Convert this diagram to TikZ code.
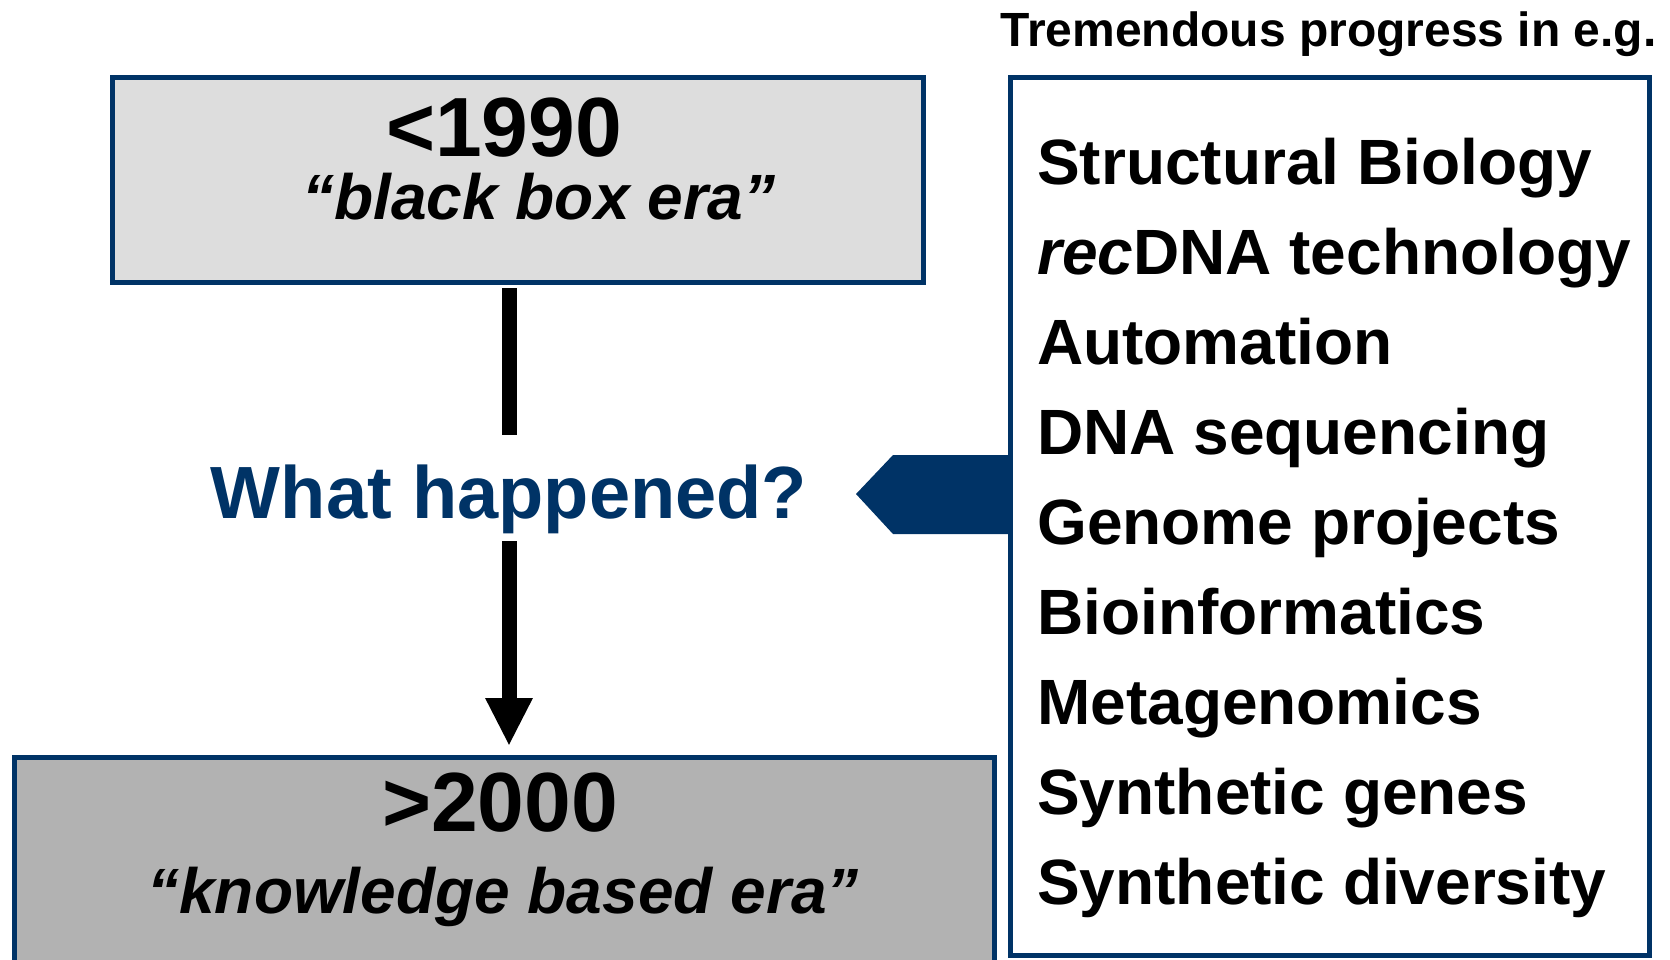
\documentclass[tikz,border=0pt]{standalone}
\usepackage{fontspec}
\setmainfont{Liberation Sans}
\usetikzlibrary{arrows.meta}
\definecolor{navy}{RGB}{0,51,102}
\definecolor{lightgrey}{HTML}{DDDDDD}
\definecolor{midgrey}{HTML}{B2B2B2}
\begin{document}
\begin{tikzpicture}[x=1pt,y=-1pt,
  erabox/.style={draw=navy, line width=5pt, inner sep=0pt},
  txt/.style={inner sep=0pt, anchor=base, font=\bfseries},
  yeartxt/.style={txt, font=\fontsize{84}{84}\selectfont\bfseries},
  quotetxt/.style={txt, font=\fontsize{64}{64}\selectfont\bfseries\itshape},
  itemtxt/.style={inner sep=0pt, anchor=base west, font=\fontsize{64}{64}\selectfont\bfseries},
  conn/.style={draw=black, line width=15pt, line cap=butt}]
\useasboundingbox (0,0) rectangle (1670,959);

% boxes
\node[erabox, fill=lightgrey, minimum width=811pt, minimum height=205pt] (top) at (517.5,179.5) {};
\node[erabox, fill=midgrey, minimum width=980pt, minimum height=243pt] (bot) at (504,878.5) {};

% pointer arrow
\fill[navy] (856,494) -- (893,455) -- (1012,455) -- (1012,534) -- (893,534) -- cycle;

\node[erabox, fill=white, minimum width=639pt, minimum height=878pt] (list) at (1329.5,516) {};

% texts in era boxes
\node[yeartxt] (y1) at (504,156) {<1990};
\node[quotetxt] (q1) at (539,219) {“black box era”};
\node[yeartxt] (y2) at (500,831) {>2000};
\node[quotetxt] (q2) at (503,913) {“knowledge based era”};

% question
\node[txt, text=navy, font=\fontsize{74}{74}\selectfont\bfseries] (wh) at (509,518) {What happened?};

% connectors
\draw[conn, shorten <=3.5pt, shorten >=29pt] (top.south -| wh.north) -- (wh.north);
\draw[conn, shorten <=7.5pt, shorten >=8.5pt, -{Triangle[width=44pt,length=48pt]}] (wh.south) -- (bot.north -| wh.south);

% title
\node[txt, font=\fontsize{48}{48}\selectfont\bfseries] (title) at (1328.5,46) {Tremendous progress in e.g.};

% list
\node[itemtxt] (i1) at (1037,184) {Structural Biology};
\node[itemtxt] (i2) at (1037,274) {\textit{rec}DNA technology};
\node[itemtxt] (i3) at (1037,364) {Automation};
\node[itemtxt] (i4) at (1037,454) {DNA sequencing};
\node[itemtxt] (i5) at (1037,544) {Genome projects};
\node[itemtxt] (i6) at (1037,634) {Bioinformatics};
\node[itemtxt] (i7) at (1037,724) {Metagenomics};
\node[itemtxt] (i8) at (1037,814) {Synthetic genes};
\node[itemtxt] (i9) at (1037,904) {Synthetic diversity};
\end{tikzpicture}
\end{document}
